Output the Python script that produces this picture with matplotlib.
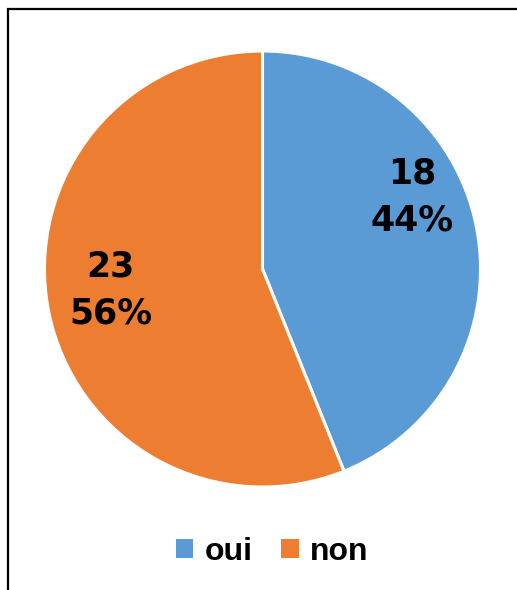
import matplotlib.pyplot as plt
from matplotlib.patches import Patch, Rectangle

labels = ['oui', 'non']
counts = [18, 23]
colors = ['#5B9BD5', '#ED7D31']

W, H = 517, 590
fig = plt.figure(figsize=(W / 100, H / 100), dpi=100)

# pie centre and radius in pixels
cx, cy, r = 262.5, 269, 218
ax = fig.add_axes([(cx - r) / W, (H - cy - r) / H, 2 * r / W, 2 * r / H])
wedges, _ = ax.pie(counts, colors=colors, startangle=90, counterclock=False,
                   radius=1, wedgeprops=dict(edgecolor='white', linewidth=2.2))
ax.set_xlim(-1, 1)
ax.set_ylim(-1, 1)
ax.set_aspect('auto')
ax.axis('off')

total = sum(counts)
label_pos = [(0.686, 0.33), (-0.697, -0.096)]
for (x, y), c in zip(label_pos, counts):
    pct = round(100 * c / total)
    ax.text(x, y, '{0}\n{1}%'.format(c, pct), ha='center', va='center',
            fontsize=25, fontweight='bold', family='DejaVu Sans',
            linespacing=1.45)

handles = [Patch(facecolor=col, edgecolor='none') for col in colors]
fig.legend(handles, labels, loc='center', bbox_to_anchor=(272 / W, 1 - 552 / H),
           ncol=2, frameon=False, handlelength=0.55, handleheight=0.55,
           handletextpad=0.35, columnspacing=0.9,
           prop=dict(family='Liberation Sans', weight='bold', size=23))

# chart border (only top and left edges visible)
fig.patches.append(Rectangle((8 / W, -0.1), 1.2, 1.1 - 9.5 / H + 0.0,
                             transform=fig.transFigure, fill=False,
                             edgecolor='black', linewidth=1.6))

fig.savefig('out.png', dpi=100)
